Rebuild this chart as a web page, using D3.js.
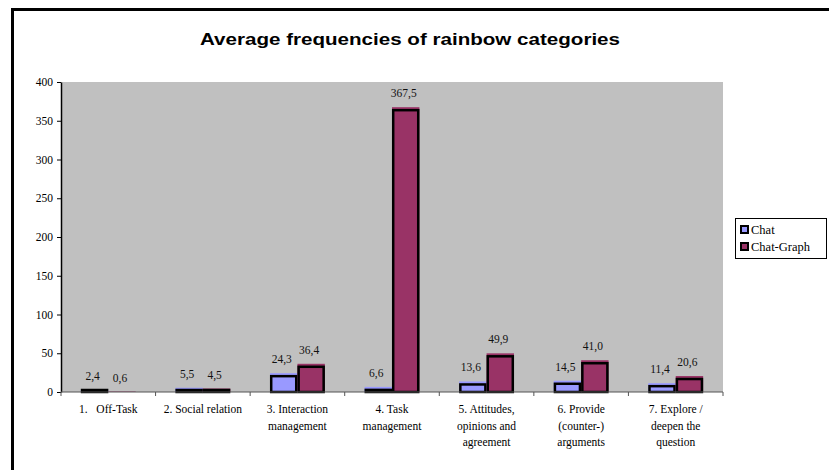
<!DOCTYPE html>
<html><head><meta charset="utf-8">
<script src="https://cdn.jsdelivr.net/npm/d3@7"></script>
<style>body{margin:0;background:#fff}svg{display:block}</style>
</head><body><svg id="c" width="829" height="470"></svg>
<script>
const categories = [
  ["1.   Off-Task"],
  ["2. Social relation"],
  ["3. Interaction", "management"],
  ["4. Task", "management"],
  ["5. Attitudes,", "opinions and", "agreement"],
  ["6. Provide", "(counter-)", "arguments"],
  ["7. Explore /", "deepen the", "question"]
];
const seriesNames = ["Chat", "Chat-Graph"];
const chat = [2.4, 5.5, 24.3, 6.6, 13.6, 14.5, 11.4];
const chatGraph = [0.6, 4.5, 36.4, 367.5, 49.9, 41.0, 20.6];
const yTicks = [0, 50, 100, 150, 200, 250, 300, 350, 400];
const colors = ["#9999FF", "#993366"];
const title = "Average frequencies of rainbow categories";

const svg = d3.select("#c");
svg.append("path").attr("d", "M12.5,470 V9.5 H829").attr("fill", "none").attr("stroke", "#000").attr("stroke-width", 3);

svg.append("text").attr("x", 410).attr("y", 44.5).attr("text-anchor", "middle")
  .attr("font-family", "'Liberation Sans', Arial, sans-serif").attr("font-weight", "bold").attr("font-size", 17)
  .attr("textLength", 420).attr("lengthAdjust", "spacingAndGlyphs")
  .text(title);

const L = 61, R = 723, T = 82, B = 392;
const x = d3.scaleBand().domain(d3.range(categories.length)).range([L, R]).paddingInner(0).paddingOuter(0);
const y = d3.scaleLinear().domain([0, 400]).range([B, T]);

svg.append("rect").attr("x", L).attr("y", T).attr("width", R - L).attr("height", B - T).attr("fill", "#C0C0C0");

const serif = "'Liberation Serif', 'Times New Roman', Times, serif";
const series = [chat, chatGraph];
const bw = x.bandwidth() * 0.29;
series.forEach((vals, si) => {
  const g = svg.append("g");
  vals.forEach((v, i) => {
    const x0 = x(i) + x.bandwidth() / 2 - bw + si * bw;
    g.append("rect").attr("x", x0).attr("y", y(v)).attr("width", bw).attr("height", B - y(v)).attr("fill", colors[si]);
    if (B - y(v) > 1) {
      const top = Math.min(y(v) + 3, B - 2);
      g.append("rect").attr("x", x0 + 1.2).attr("y", top).attr("width", bw - 2.4).attr("height", B - top)
        .attr("fill", "none").attr("stroke", "#000").attr("stroke-width", 2.5);
    }
    g.append("text").attr("x", x0 + bw / 2 - 2).attr("y", y(v) - 10).attr("text-anchor", "middle")
      .style("font-family", serif).attr("font-size", 11.5).attr("fill", "#111")
      .text(d3.format(".1f")(v).replace(".", ","));
  });
});

const ya = svg.append("g").attr("transform", `translate(${L},0)`)
  .call(d3.axisLeft(y).tickValues(yTicks).tickSize(4).tickSizeOuter(0).tickFormat(d3.format("d")));
ya.select(".domain").attr("stroke", "#000").attr("stroke-width", 1.5);
ya.selectAll(".tick line").attr("stroke", "#000");
ya.selectAll(".tick text").style("font-family", serif).attr("font-size", 11.5).attr("fill", "#000").attr("x", -8);

const xa = svg.append("g").attr("transform", `translate(0,${B})`);
xa.append("line").attr("x1", L).attr("x2", R).attr("y1", 0).attr("y2", 0).attr("stroke", "#555").attr("stroke-width", 1);
d3.range(categories.length + 1).forEach(i => {
  const xx = i < categories.length ? x(i) : R;
  xa.append("line").attr("x1", xx).attr("x2", xx).attr("y1", 0).attr("y2", 4).attr("stroke", "#555");
});
categories.forEach((lines, i) => {
  const t = xa.append("text").attr("text-anchor", "middle").style("font-family", serif).attr("font-size", 11.5).attr("fill", "#000")
    .style("white-space", "pre");
  lines.forEach((ln, k) => {
    t.append("tspan").attr("x", x(i) + x.bandwidth() / 2).attr("y", 21 + k * 16.5).text(ln);
  });
});

const lg = svg.append("g");
lg.append("rect").attr("x", 735.5).attr("y", 218.5).attr("width", 91).attr("height", 40).attr("fill", "#fff").attr("stroke", "#000");
seriesNames.forEach((n, i) => {
  const yy = 226 + i * 17;
  lg.append("rect").attr("x", 741).attr("y", yy).attr("width", 7).attr("height", 7).attr("fill", colors[i]).attr("stroke", "#000").attr("stroke-width", 2);
  lg.append("text").attr("x", 751).attr("y", yy + 7.5).style("font-family", serif).attr("font-size", 12.5).text(n);
});
</script></body></html>
